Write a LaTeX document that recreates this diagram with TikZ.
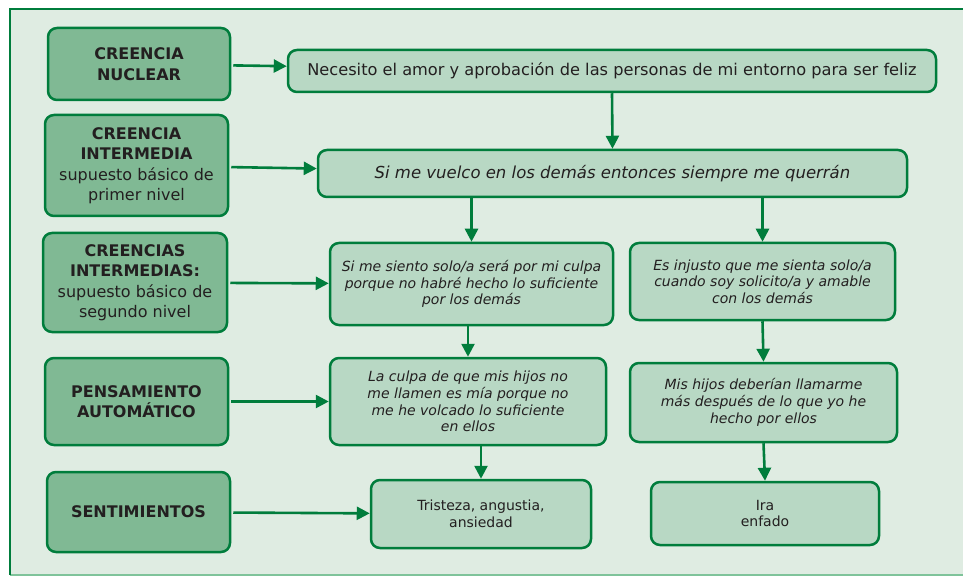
\documentclass[tikz,border=0pt]{standalone}
\usepackage{fontspec}
\setmainfont{DejaVu Sans}
\usetikzlibrary{arrows.meta}
\definecolor{framegreen}{RGB}{0,125,60}
\definecolor{bggreen}{RGB}{223,236,226}
\definecolor{darkfill}{RGB}{128,185,148}
\definecolor{lightfill}{RGB}{184,216,196}
\definecolor{textgray}{RGB}{35,31,32}
\definecolor{paleline}{RGB}{127,195,154}
\begin{document}
\begin{tikzpicture}[
    % One unit is one pixel of the page, y runs downwards
    x=1pt, y=-1pt,
    % Define styles for the elements
    label_style/.style={draw=framegreen, line width=2.5pt, rounded corners=9pt,
      fill=darkfill, text=textgray, align=center, inner sep=0pt,
      font=\fontsize{16}{20.5}\selectfont},
    belief_style/.style={draw=framegreen, line width=2.5pt, rounded corners=9pt,
      fill=lightfill, text=textgray, align=center, inner sep=0pt,
      font=\fontsize{16.2}{19}\selectfont},
    small_style/.style={belief_style, font=\fontsize{14}{16.7}\selectfont\itshape},
    feeling_style/.style={belief_style, font=\fontsize{14}{16.7}\selectfont},
    link_style/.style={draw=framegreen, line width=2.6pt,
      -{Triangle[length=13pt,width=13pt]}}
  ]

  % --- Step 1: The page and its frame ---
  \useasboundingbox (0,0) rectangle (963,577);
  \fill[bggreen] (10,9) rectangle (980,575);
  \draw[paleline, line width=2pt] (10,575) -- (980,575);
  \draw[framegreen, line width=2.5pt] (980,9) -- (10,9) -- (10,575);

  % --- Step 2: The labels on the left ---
  \node[label_style, minimum width=182, minimum height=72] (nuclear) at (139,64)
    {\textbf{CREENCIA}\\\textbf{NUCLEAR}};
  \node[label_style, minimum width=183, minimum height=101] (intermedia) at (136.5,165.5)
    {\textbf{CREENCIA}\\\textbf{INTERMEDIA}\\supuesto básico de\\primer nivel};
  \node[label_style, minimum width=184, minimum height=99] (intermedias) at (135,282.5)
    {\textbf{CREENCIAS}\\\textbf{INTERMEDIAS:}\\supuesto básico de\\segundo nivel};
  \node[label_style, minimum width=183, minimum height=87] (pensamiento) at (136.5,401.5)
    {\textbf{PENSAMIENTO}\\\textbf{AUTOMÁTICO}};
  \node[label_style, minimum width=183, minimum height=80] (sentimientos) at (138.5,512)
    {\textbf{SENTIMIENTOS}};

  % --- Step 3: The beliefs, thoughts and feelings ---
  \node[belief_style, minimum width=648, minimum height=42] (amor) at (612,71)
    {Necesito el amor y aprobación de las personas de mi entorno para ser feliz};
  \node[belief_style, minimum width=589, minimum height=47, font=\fontsize{16.5}{19}\selectfont\itshape]
    (vuelco) at (612.5,173.5)
    {Si me vuelco en los demás entonces siempre me querrán};

  \node[small_style, minimum width=283, minimum height=82] (culpa) at (471.5,284)
    {Si me siento solo/a será por mi culpa\\porque no habré hecho lo suficiente\\por los demás};
  \node[small_style, minimum width=265, minimum height=77] (injusto) at (762.5,281.5)
    {Es injusto que me sienta solo/a\\cuando soy solicito/a y amable\\con los demás};

  \node[small_style, minimum width=276, minimum height=87] (hijos) at (468,401.5)
    {La culpa de que mis hijos no\\me llamen es mía porque no\\me he volcado lo suficiente\\en ellos};
  \node[small_style, minimum width=267, minimum height=79] (llamarme) at (763.5,402.5)
    {Mis hijos deberían llamarme\\más después de lo que yo he\\hecho por ellos};

  \node[feeling_style, minimum width=220, minimum height=68] (tristeza) at (481,514)
    {Tristeza, angustia,\\ansiedad};
  \node[feeling_style, minimum width=228, minimum height=63] (ira) at (765,513.5)
    {Ira\\enfado};

  % --- Step 4: The arrows ---
  \draw[link_style, shorten <=2pt] (nuclear) -- (amor);
  \draw[link_style, shorten <=2pt] (intermedia) -- (vuelco);
  \draw[link_style, shorten <=2pt] (intermedias) -- (culpa);
  \draw[link_style, shorten <=2pt] (pensamiento) -- (hijos);
  \draw[link_style, shorten <=2pt] (sentimientos) -- (tristeza);

  \draw[link_style] (amor.south) -- (vuelco.north);
  \draw[link_style] (vuelco.south -| culpa.north) -- (culpa.north);
  \draw[link_style] (vuelco.south -| injusto.north) -- (injusto.north);
  \draw[link_style] (culpa.south -| hijos.north) -- (hijos.north);
  \draw[link_style] (injusto.south) -- (llamarme.north);
  \draw[link_style] (hijos.south -| tristeza.north) -- (tristeza.north);
  \draw[link_style] (llamarme.south) -- (ira.north);

\end{tikzpicture}
\end{document}
